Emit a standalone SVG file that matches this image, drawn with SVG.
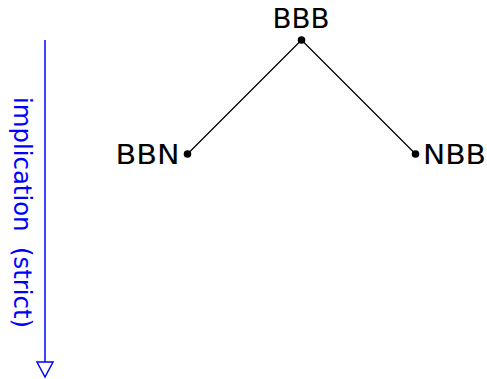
<svg xmlns="http://www.w3.org/2000/svg" width="487" height="379" viewBox="0 0 487 379">
  <style>
    .lbl { font-family: "DejaVu Sans", Verdana, sans-serif; font-size: 26px; fill: #000; }
    .edge { stroke: #000; stroke-width: 1.3; fill: none; }
    .dot { fill: #000; }
    .axis { stroke: #0000ff; stroke-width: 1.5; fill: none; }
    .axis-head { fill: #fff; stroke: #0000ff; stroke-width: 1.5; }
    .axis-lbl { font-family: "DejaVu Sans", Verdana, sans-serif; font-size: 24px; fill: #0000ff; white-space: pre; }
  </style>

  <!-- connectors -->
  <g id="connectors">
    <line class="edge" x1="301.5" y1="40" x2="187.5" y2="154"/>
    <line class="edge" x1="301.5" y1="40" x2="415.5" y2="154"/>
  </g>

  <!-- nodes -->
  <g id="node-BBB">
    <circle class="dot" cx="301.5" cy="40" r="3.8"/>
    <text class="lbl" x="272.5" y="28" textLength="57" lengthAdjust="spacingAndGlyphs">BBB</text>
  </g>
  <g id="node-BBN">
    <circle class="dot" cx="187.5" cy="154" r="3.8"/>
    <text class="lbl" x="115.5" y="164" textLength="64" lengthAdjust="spacingAndGlyphs">BBN</text>
  </g>
  <g id="node-NBB">
    <circle class="dot" cx="415.5" cy="154" r="3.8"/>
    <text class="lbl" x="423" y="164" textLength="63" lengthAdjust="spacingAndGlyphs">NBB</text>
  </g>

  <!-- implication axis -->
  <g id="axis">
    <line class="axis" x1="45" y1="40" x2="45" y2="362"/>
    <path class="axis-head" d="M37,362 L53,362 L45,377 Z"/>
    <text class="axis-lbl" transform="translate(14,97) rotate(90)" textLength="231" lengthAdjust="spacingAndGlyphs" xml:space="preserve">implication  (strict)</text>
  </g>
</svg>
